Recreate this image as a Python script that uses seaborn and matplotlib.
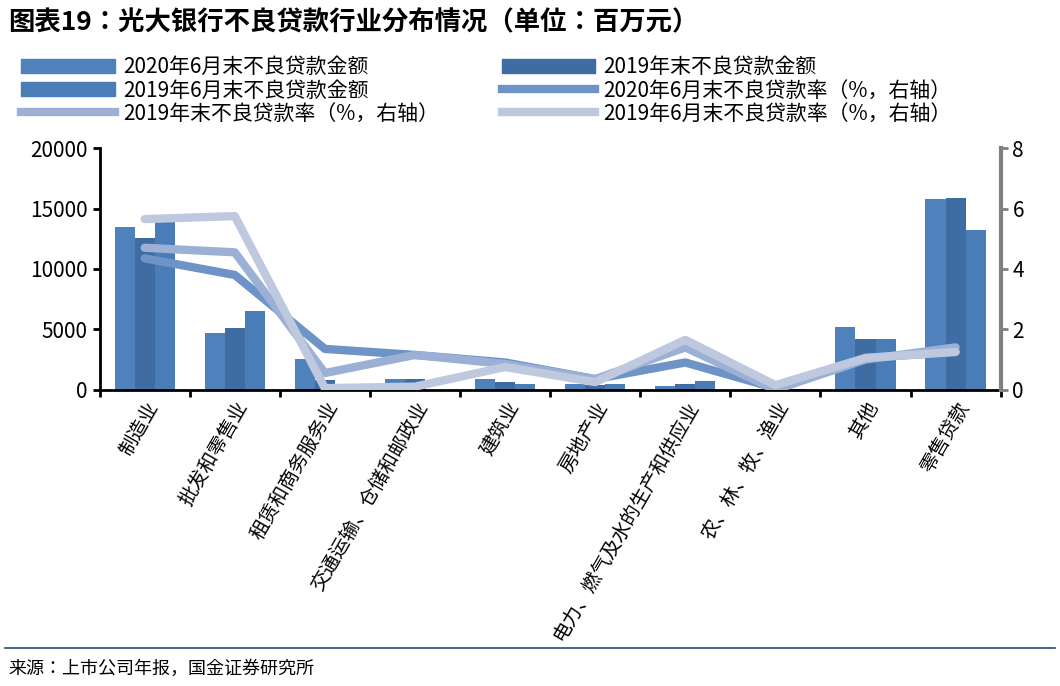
import numpy as np
import pandas as pd
import matplotlib.pyplot as plt
import seaborn as sns
from matplotlib import font_manager
from matplotlib.patches import Patch
from matplotlib.lines import Line2D

# 找一个可用的中文字体
cjk = [f.name for f in font_manager.fontManager.ttflist if 'CJK' in f.name]
plt.rcParams['font.family'] = 'sans-serif'
plt.rcParams['font.sans-serif'] = (['Noto Sans CJK SC'] if 'Noto Sans CJK SC' in cjk else cjk[:1]) + ['DejaVu Sans']

# 数据
categories = ['制造业', '批发和零售业', '租赁和商务服务业', '交通运输、仓储和邮政业', '建筑业',
              '房地产业', '电力、燃气及水的生产和供应业', '农、林、牧、渔业', '其他', '零售贷款']
npl_2020h1 = [13500, 4700, 2500, 900, 900, 500, 300, 50, 5200, 15800]
npl_2019end = [12600, 5100, 800, 850, 650, 400, 500, 30, 4200, 15900]
npl_2019h1 = [13900, 6500, 0, 0, 500, 500, 700, 30, 4200, 13200]
rate_2020h1 = [4.35, 3.8, 1.35, 1.15, 0.9, 0.35, 0.9, 0.05, 1.05, 1.25]
rate_2019end = [4.7, 4.55, 0.55, 1.15, 0.85, 0.35, 1.4, 0.0, 1.0, 1.4]
rate_2019h1 = [5.65, 5.75, 0.05, 0.1, 0.75, 0.25, 1.65, 0.15, 1.05, 1.25]

bar_names = ['2020年6月末不良贷款金额', '2019年末不良贷款金额', '2019年6月末不良贷款金额']
line_names = ['2020年6月末不良贷款率（%，右轴）', '2019年末不良贷款率（%，右轴）', '2019年6月末不良贷款率（%，右轴）']
bar_colors = ['#4f81bd', '#3e6ca3', '#4a7db8']
line_colors = ['#6d93c7', '#9cb0d5', '#bec9df']

df = pd.DataFrame({'cat': categories * 3,
                   'series': sum([[n] * len(categories) for n in bar_names], []),
                   'val': npl_2020h1 + npl_2019end + npl_2019h1})

fig = plt.figure(figsize=(10.6, 6.86), dpi=100)
ax = fig.add_axes([0.094, 0.432, 0.85, 0.352])
sns.barplot(data=df, x='cat', y='val', hue='series', palette=bar_colors, ax=ax,
            width=0.67, gap=0, saturation=1, legend=False)
ax.set_ylim(0, 20000)
ax.set_yticks([0, 5000, 10000, 15000, 20000])
ax.set_xlim(-0.5, len(categories) - 0.5)
ax.set_xlabel('')
ax.set_ylabel('')
ax.set_xticks(np.arange(len(categories) + 1) - 0.5)
ax.set_xticklabels([])
ax.set_xticks(np.arange(len(categories)), minor=True)
ax.set_xticklabels(categories, minor=True, rotation=60, ha='right', rotation_mode='anchor', fontsize=14)
ax.tick_params(axis='x', which='minor', length=0, pad=6)
ax.tick_params(axis='x', which='major', length=5, width=2)
ax.tick_params(axis='y', labelsize=15, length=5, width=2)
for s in ['top', 'right']:
    ax.spines[s].set_visible(False)
ax.spines['left'].set_linewidth(2)
ax.spines['bottom'].set_linewidth(2)

ax2 = ax.twinx()
x = np.arange(len(categories))
for vals, c in zip([rate_2020h1, rate_2019end, rate_2019h1], line_colors):
    sns.lineplot(x=x, y=vals, color=c, linewidth=6, ax=ax2, solid_capstyle='round')
ax2.set_ylim(0, 8)
ax2.set_yticks([0, 2, 4, 6, 8])
ax2.tick_params(axis='y', labelsize=15, length=5, width=2, color='#808080')
for s in ['top', 'left', 'bottom']:
    ax2.spines[s].set_visible(False)
ax2.spines['right'].set_color('#808080')
ax2.spines['right'].set_linewidth(3)
ax2.set_ylabel('')

# 图例（按行排列：列优先顺序重排）
bh = [Patch(color=c) for c in bar_colors]
lh = [Line2D([], [], color=c, lw=6) for c in line_colors]
handles = [bh[0], bh[2], lh[1], bh[1], lh[0], lh[2]]
labels = [bar_names[0], bar_names[2], line_names[1], bar_names[1], line_names[0], line_names[2]]
fig.legend(handles, labels, ncol=2, loc='upper left', bbox_to_anchor=(0.012, 0.93), frameon=False,
           fontsize=15, handlelength=4.5, handleheight=0.6, columnspacing=3.0, labelspacing=0.05,
           handletextpad=0.4, borderaxespad=0)

fig.text(0.008, 0.966, '图表19：光大银行不良贷款行业分布情况（单位：百万元）', fontsize=19,
         fontweight='bold', fontstyle='italic', va='center')
fig.add_artist(Line2D([0.005, 0.995], [0.055, 0.055], color='#1f4e79', lw=1.2))
fig.text(0.008, 0.025, '来源：上市公司年报，国金证券研究所', fontsize=13, va='center')

fig.savefig('out.png', dpi=100)
